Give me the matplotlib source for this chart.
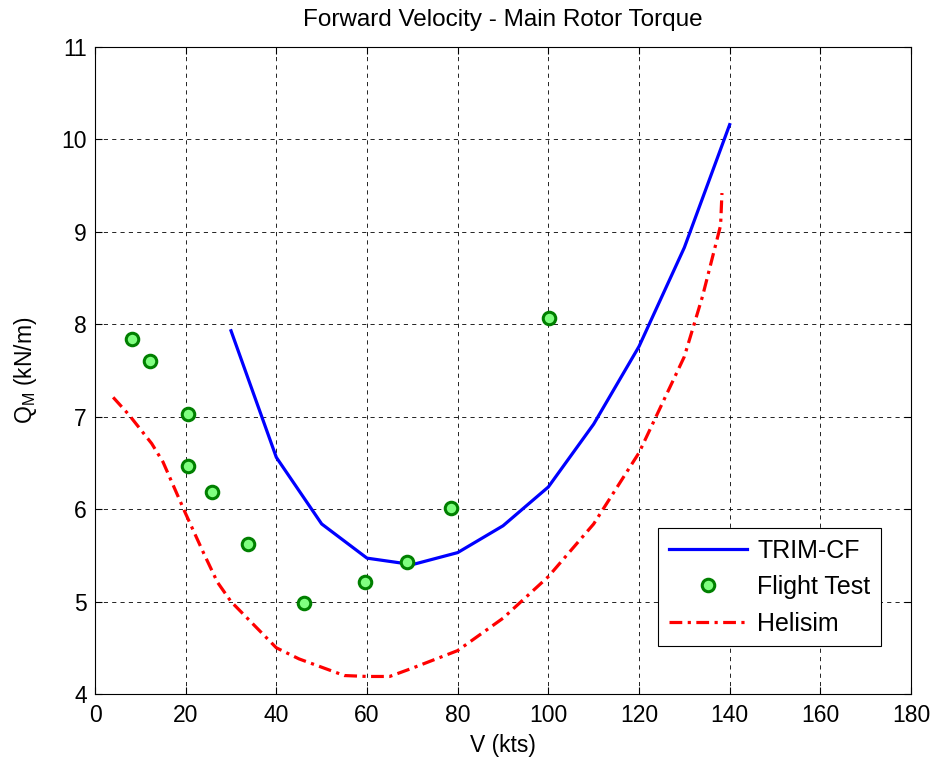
import matplotlib
matplotlib.use("Agg")
import matplotlib.pyplot as plt

plt.rcParams['font.family'] = ['Liberation Sans', 'DejaVu Sans']
plt.rcParams['mathtext.fontset'] = 'custom'
plt.rcParams['mathtext.rm'] = 'Liberation Sans'
plt.rcParams['mathtext.it'] = 'Liberation Sans'

trim_v = [30, 40, 50, 60, 70, 80, 90, 100, 110, 120, 130, 140]
trim_q = [7.93, 6.56, 5.84, 5.47, 5.40, 5.53, 5.82, 6.24, 6.92, 7.76, 8.83, 10.16]

flight_v = [8.2, 12.1, 20.5, 20.5, 25.8, 33.8, 46.1, 59.6, 68.8, 78.5, 100.2]
flight_q = [7.84, 7.60, 7.03, 6.47, 6.19, 5.62, 4.99, 5.21, 5.43, 6.01, 8.07]

heli_v = [4, 7.5, 12.5, 15, 20, 24, 27, 30, 35, 40, 45, 50, 55, 60, 65, 70, 80, 90,
          100, 110, 120, 130, 134, 138, 138.3]
heli_q = [7.21, 7.02, 6.71, 6.51, 5.95, 5.52, 5.21, 5.00, 4.75, 4.50, 4.38, 4.29, 4.20,
          4.19, 4.19, 4.28, 4.47, 4.82, 5.27, 5.84, 6.61, 7.65, 8.30, 9.07, 9.42]

fig = plt.figure(figsize=(9.38, 7.63), dpi=100)
ax = fig.add_axes([0.1013, 0.0904, 0.8699, 0.848])

ax.plot(trim_v, trim_q, color='#0000ff', lw=2.3, label='TRIM-CF', zorder=3)
ax.plot(flight_v, flight_q, linestyle='none', marker='o', markersize=9,
        markeredgewidth=2.2, markeredgecolor='#008000', markerfacecolor='#80ff80',
        label='Flight Test', zorder=4)
ax.plot(heli_v, heli_q, color='#ff0000', lw=2.3, linestyle=(0, (4, 1.7, 1, 1.7)),
        label='Helisim', zorder=3)

ax.set_xlim(0, 180)
ax.set_ylim(4, 11)
ax.set_xticks(range(0, 181, 20))
ax.set_yticks(range(4, 12))
ax.grid(True, color='black', linestyle=(0, (5, 5)), lw=0.6)
ax.tick_params(direction='in', top=True, right=True, labelsize=16.5, length=5)
ax.tick_params(axis='x', pad=7)
ax.tick_params(axis='y', pad=6)
for s in ax.spines.values():
    s.set_linewidth(0.8)

ax.set_xlabel('V (kts)', fontsize=16.5, labelpad=5)
ax.set_ylabel('Q$_\\mathregular{M}$ (kN/m)', fontsize=16.5, labelpad=16)
ax.set_title('Forward Velocity - Main Rotor Torque', fontsize=17.5, pad=15)

leg = ax.legend(loc='lower right', bbox_to_anchor=(0.9632, 0.0742), fontsize=18,
                fancybox=False, framealpha=1, edgecolor='black', handlelength=3.15,
                handletextpad=0.4, borderpad=0.42, labelspacing=0.5, borderaxespad=0)
leg.get_frame().set_linewidth(0.8)

fig.savefig('out.png', dpi=100)
